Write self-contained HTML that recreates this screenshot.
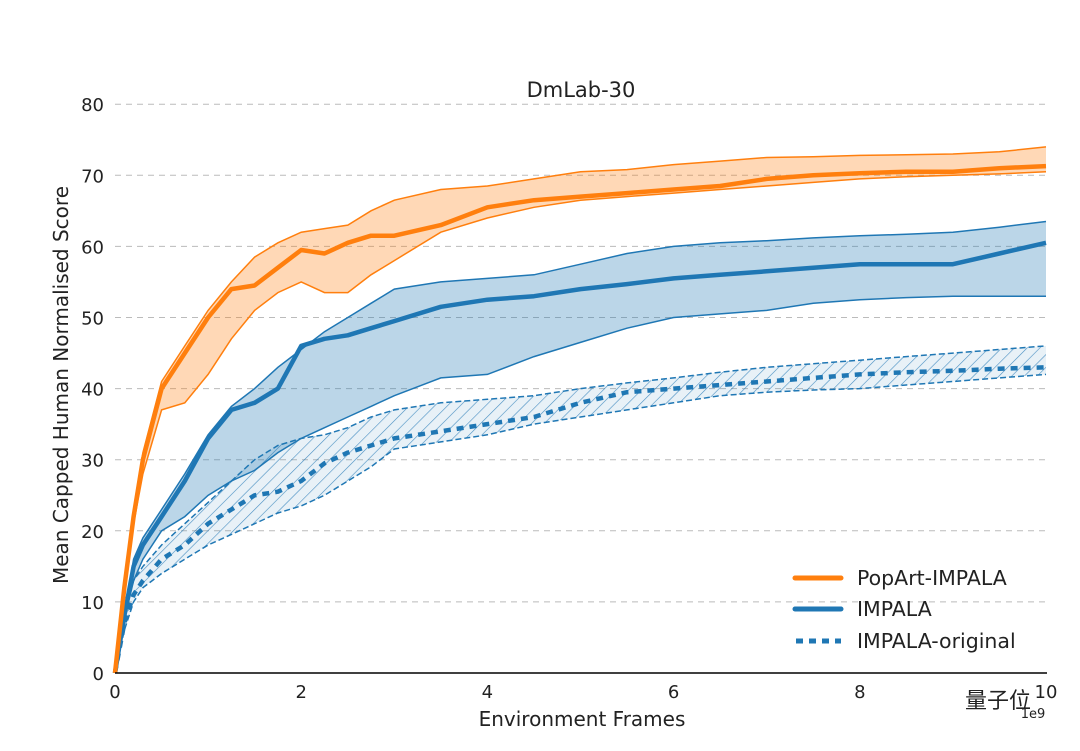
<!DOCTYPE html>
<html><head><meta charset="utf-8"><style>
body{margin:0;background:#fff;}
svg text{font-family:"DejaVu Sans","Liberation Sans","Noto Sans CJK SC",sans-serif;fill:#222;}
</style></head><body>
<svg width="1080" height="746" viewBox="0 0 1080 746" xmlns="http://www.w3.org/2000/svg">
<defs>
<pattern id="hatch" patternUnits="userSpaceOnUse" width="9" height="9" patternTransform="rotate(45)">
<rect width="9" height="9" fill="rgba(31,119,180,0.1)"/>
<line x1="0" y1="0" x2="0" y2="9" stroke="#1f77b4" stroke-width="1.2" stroke-opacity="0.8"/>
</pattern>
</defs>
<g id="grid"></g>
<g id="series"></g>
<line x1="115" y1="673" x2="1047" y2="673" stroke="#000" stroke-width="1.6"/>
<g id="ticks"></g>
<text x="581" y="97" font-size="21" text-anchor="middle">DmLab-30</text>
<text x="582" y="726" font-size="20" text-anchor="middle">Environment Frames</text>
<text transform="translate(68,385) rotate(-90)" font-size="20" text-anchor="middle">Mean Capped Human Normalised Score</text>
<text x="1033" y="718" font-size="13" text-anchor="middle">1e9</text>
<text x="965" y="708" font-size="22" fill="#555">量子位</text>
<g>
<line x1="795" y1="578" x2="841" y2="578" stroke="#ff7f0e" stroke-width="5" stroke-linecap="round"/>
<text x="857" y="585" font-size="20.5">PopArt-IMPALA</text>
<line x1="795" y1="609" x2="841" y2="609" stroke="#1f77b4" stroke-width="5" stroke-linecap="round"/>
<text x="857" y="616" font-size="20.5">IMPALA</text>
<line x1="796" y1="641" x2="841" y2="641" stroke="#1f77b4" stroke-width="5" stroke-dasharray="7,6"/>
<text x="857" y="648" font-size="20.5">IMPALA-original</text>
</g>
</svg>
<script>
const xs=[0,0.1,0.2,0.3,0.5,0.75,1,1.25,1.5,1.75,2,2.25,2.5,2.75,3,3.5,4,4.5,5,5.5,6,6.5,7,7.5,8,8.5,9,9.5,10];
const popMean=[0,12,22,30,40,45,50,54,54.5,57,59.5,59,60.5,61.5,61.5,63,65.5,66.5,67,67.5,68,68.5,69.5,70,70.3,70.5,70.5,71,71.3];
const popUpper=[0,12.5,23,31,41,46,51,55,58.5,60.5,62,62.5,63,65,66.5,68,68.5,69.5,70.5,70.8,71.5,72,72.5,72.6,72.8,72.9,73,73.3,74];
const popLower=[0,11.5,21,28,37,38,42,47,51,53.5,55,53.5,53.5,56,58,62,64,65.5,66.5,67,67.5,68,68.5,69,69.5,69.8,70,70.2,70.5];
const impMean=[0,8,15,18,22,27,33,37,38,40,46,47,47.5,48.5,49.5,51.5,52.5,53,54,54.7,55.5,56,56.5,57,57.5,57.5,57.5,59,60.5];
const impUpper=[0,8.5,16,19,23,28,33.5,37.5,40,43,45.5,48,50,52,54,55,55.5,56,57.5,59,60,60.5,60.8,61.2,61.5,61.7,62,62.7,63.5];
const impLower=[0,7.5,13,16,20,22,25,27,28.5,31,33,34.5,36,37.5,39,41.5,42,44.5,46.5,48.5,50,50.5,51,52,52.5,52.8,53,53,53];
const origMean=[0,7,11,13,16,18,21,23,25,25.5,27,29.5,31,32,33,34,35,36,38,39.5,40,40.5,41,41.5,42,42.3,42.5,42.8,43];
const origUpper=[0,8,13,15,18,21,24,27,30,32,33,33.5,34.5,36,37,38,38.5,39,40,40.8,41.5,42.3,43,43.5,44,44.5,45,45.5,46];
const origLower=[0,6,10,12,14,16,18,19.5,21,22.5,23.5,25,27,29,31.5,32.5,33.5,35,36,37,38,39,39.5,39.8,40,40.5,41,41.5,42];
const xTicks=[0,2,4,6,8,10];
const xTickLabels=["0","2","4","6","8","10"];
const yTicks=[0,10,20,30,40,50,60,70,80];
const yTickLabels=["0","10","20","30","40","50","60","70","80"];
const NS="http://www.w3.org/2000/svg";
const X=v=>115+93.1*v, Y=v=>673-7.11*v;
function mk(tag,attrs,parent){const e=document.createElementNS(NS,tag);for(const k in attrs)e.setAttribute(k,attrs[k]);parent.appendChild(e);return e;}
const grid=document.getElementById('grid'),ticks=document.getElementById('ticks'),ser=document.getElementById('series');
yTicks.forEach((t,i)=>{
 if(t>0){const l=mk('line',{x1:115,x2:1047,y1:Y(t),y2:Y(t),stroke:'#bbb','stroke-width':1,'stroke-dasharray':'6,5'},grid);
 
 }
 const tx=mk('text',{x:104,y:Y(t)+7,'font-size':18,'text-anchor':'end'},ticks);tx.textContent=yTickLabels[i];
 
 
});
xTicks.forEach((t,i)=>{
 const tx=mk('text',{x:X(t),y:698,'font-size':18,'text-anchor':'middle'},ticks);tx.textContent=xTickLabels[i];
 
 
});
const line=a=>a.map((v,i)=>(i?'L':'M')+X(xs[i]).toFixed(1)+','+Y(v).toFixed(1)).join('');
const band=(u,l)=>line(u)+l.map((v,i)=>'L'+X(xs[i]).toFixed(1)+','+Y(v).toFixed(1)).reverse().join('')+'Z';
function draw(name,u,l,m,fill,color,dash){
 const b=mk('path',{d:band(u,l),fill:fill,stroke:'none'},ser);
 
 
 const pu=mk('path',{d:line(u),fill:'none',stroke:color,'stroke-width':1.5,'stroke-dasharray':dash?'6,3':'none'},ser);
 
 
 const pl=mk('path',{d:line(l),fill:'none',stroke:color,'stroke-width':1.5,'stroke-dasharray':dash?'6,3':'none'},ser);
 
 
 const pm=mk('path',{d:line(m),fill:'none',stroke:color,'stroke-width':4.5,'stroke-dasharray':dash?'7,6':'none','stroke-linejoin':'round'},ser);
 
 
}
draw('impala-original',origUpper,origLower,origMean,'url(#hatch)','#1f77b4',true);
draw('impala',impUpper,impLower,impMean,'rgba(31,119,180,0.3)','#1f77b4',false);
draw('popart-impala',popUpper,popLower,popMean,'rgba(255,127,14,0.3)','#ff7f0e',false);
</script>
</body></html>
